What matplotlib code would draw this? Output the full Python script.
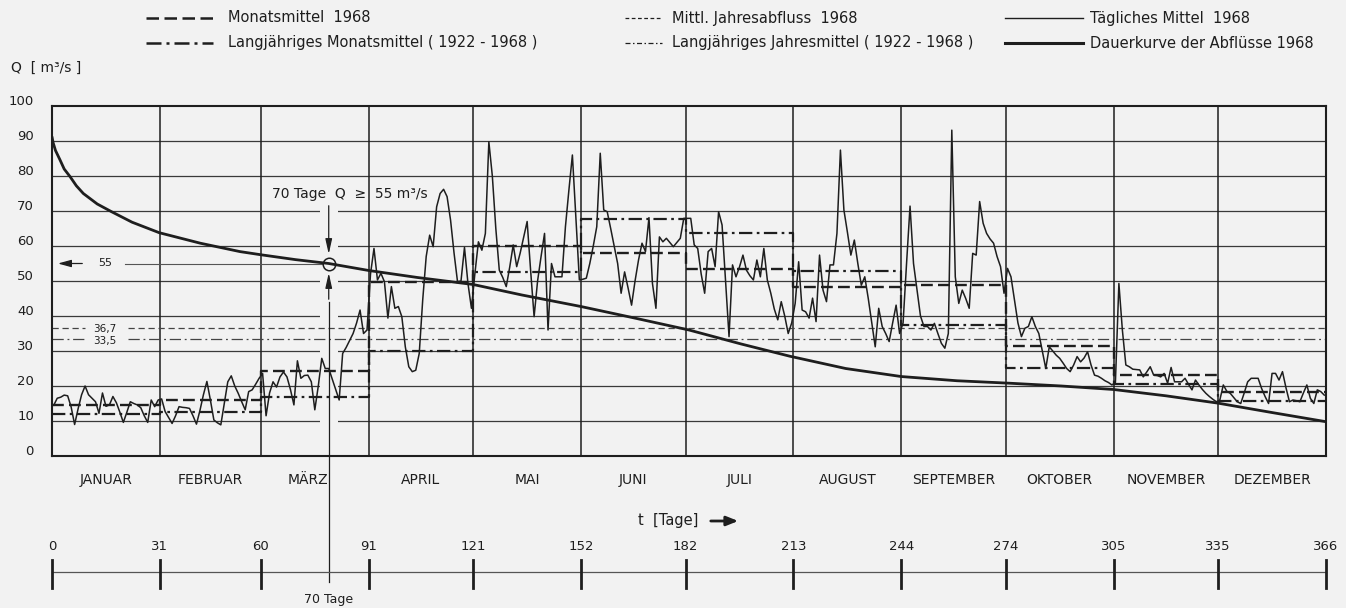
import matplotlib
matplotlib.use("Agg")
import matplotlib.pyplot as plt
import numpy as np
from matplotlib.transforms import blended_transform_factory
from matplotlib.lines import Line2D
from matplotlib.patches import Rectangle, FancyArrowPatch

# ---------------- data ----------------
months = ["JANUAR", "FEBRUAR", "MÄRZ", "APRIL", "MAI", "JUNI", "JULI",
          "AUGUST", "SEPTEMBER", "OKTOBER", "NOVEMBER", "DEZEMBER"]
month_days = [31, 29, 31, 30, 31, 30, 31, 31, 30, 31, 30, 31]
day_ticks = [0, 31, 60, 91, 121, 152, 182, 213, 244, 274, 305, 335, 366]

monthly_mean_1968 = [14.5, 16.0, 24.3, 49.8, 60.0, 58.0, 53.3, 48.4, 49.0, 31.4, 23.1, 18.4]
monthly_mean_longterm = [12.0, 12.7, 16.8, 30.0, 52.7, 67.7, 63.8, 52.9, 37.5, 25.2, 20.6, 15.8]
annual_mean_1968 = 36.7
annual_mean_longterm = 33.5

daily_jan = [14.5, 16.5, 16.8, 17.4, 17.2, 14.0, 9.0, 13.5, 17.5, 20.0, 17.5, 16.5, 15.5, 12.2, 18.0,
             14.2, 14.6, 17.0, 15.2, 12.5, 9.6, 12.5, 15.5, 15.0, 14.6, 13.8, 11.5, 9.6, 16.0, 14.1, 16.0]
daily_feb = [16.3, 12.7, 11.0, 9.3, 11.5, 14.1, 13.9, 13.8, 13.6, 11.5, 9.1, 13.0, 17.5, 21.3, 16.0,
             10.3, 9.5, 8.9, 15.0, 21.2, 22.9, 20.0, 17.9, 15.5, 13.2, 18.4, 18.9, 20.5, 22.2]
daily_mar = [23.6, 11.5, 18.0, 21.2, 19.7, 22.6, 24.0, 22.6, 19.0, 14.6, 27.2, 22.2, 23.0, 23.1, 21.2,
             13.2, 20.0, 27.9, 25.0, 25.0, 22.0, 19.0, 16.0, 29.3, 31.0, 33.0, 35.0, 38.0, 41.7, 35.0, 36.0]
daily_apr = [52.0, 59.3, 50.3, 52.2, 49.8, 39.4, 48.4, 42.2, 42.7, 39.8, 31.2, 25.5, 24.1, 24.5, 29.3,
             44.6, 57.0, 63.1, 59.8, 71.2, 75.0, 76.2, 74.1, 67.4, 58.0, 49.8, 50.0, 59.6, 49.3, 42.2]
daily_may = [52.2, 61.2, 58.8, 63.6, 89.8, 80.0, 65.0, 53.1, 51.0, 48.4, 54.0, 60.3, 54.1, 58.0, 62.5,
             67.0, 53.0, 39.8, 50.0, 57.0, 63.6, 36.0, 55.0, 51.2, 51.2, 51.2, 65.5, 76.0, 86.0, 68.0, 50.3]
daily_jun = [50.5, 50.8, 55.0, 60.0, 65.5, 86.5, 70.3, 69.8, 65.0, 60.0, 55.0, 46.5, 52.6, 48.0, 43.1,
             50.0, 56.0, 60.8, 58.4, 68.1, 49.3, 42.2, 62.6, 61.2, 62.2, 61.0, 59.8, 61.0, 62.2, 67.9]
daily_jul = [67.9, 67.9, 60.3, 59.3, 52.0, 46.5, 58.4, 59.3, 54.1, 69.8, 66.0, 50.0, 34.1, 54.6, 51.2,
             54.0, 57.4, 53.1, 51.5, 50.3, 56.0, 51.2, 59.3, 50.3, 46.5, 42.0, 38.9, 44.1, 40.0, 35.0, 38.0]
daily_aug = [43.6, 55.5, 41.7, 41.2, 39.4, 45.1, 38.4, 57.4, 47.4, 44.1, 54.6, 54.6, 63.6, 87.4, 70.3,
             64.0, 57.4, 61.7, 55.0, 48.8, 51.2, 45.0, 38.0, 31.2, 42.2, 37.0, 35.0, 32.7, 38.0, 43.1, 35.0]
daily_sep = [38.0, 55.0, 71.4, 55.0, 47.4, 40.0, 37.0, 37.0, 36.0, 37.9, 35.0, 32.2, 30.8, 35.0, 93.1,
             51.2, 43.6, 47.4, 45.0, 42.2, 57.9, 57.4, 72.7, 66.5, 63.6, 62.0, 60.8, 57.0, 54.1, 46.5]
daily_oct = [53.6, 51.2, 44.6, 38.0, 34.1, 36.5, 37.0, 39.8, 37.0, 35.0, 30.0, 25.0, 31.2, 30.0, 28.8,
             27.9, 26.5, 25.0, 24.1, 26.0, 28.4, 26.9, 28.0, 29.8, 26.0, 23.1, 22.8, 22.2, 21.5, 21.0, 20.3]
daily_nov = [21.0, 49.3, 36.0, 26.0, 25.5, 24.8, 24.7, 24.6, 22.6, 24.0, 25.5, 23.1, 23.0, 22.6, 23.6,
             20.8, 25.3, 21.2, 21.2, 21.2, 22.2, 20.5, 18.9, 21.7, 20.3, 19.0, 17.9, 17.0, 16.2, 15.5]
daily_dec = [16.0, 20.3, 18.5, 17.9, 16.7, 15.5, 15.0, 18.0, 21.2, 22.2, 22.2, 22.2, 19.3, 17.0, 15.0,
             23.6, 23.6, 21.7, 24.1, 19.5, 15.5, 16.0, 15.8, 15.5, 18.0, 20.3, 16.5, 15.0, 18.9, 18.4, 17.4]

duration_days = [0, 0.3, 1.0, 2.3, 3.5, 5.2, 7.0, 9.0, 13.0, 17.1, 23.0, 30.8, 42.6, 54.0, 60.0,
                 70.0, 79.5, 91, 105, 121, 135, 152, 167, 183, 198, 212, 228, 244, 260, 275, 290,
                 305, 320, 335, 350, 366]
duration_q = [91.2, 89.6, 87.3, 84.6, 82.0, 79.8, 77.2, 75.0, 72.0, 69.8, 66.8, 63.8, 60.8, 58.4, 57.5,
              56.1, 55.0, 53.0, 51.0, 49.0, 46.0, 42.7, 39.5, 36.0, 32.0, 28.5, 25.0, 22.7, 21.5,
              20.8, 20.0, 19.0, 17.2, 15.1, 12.5, 9.8]

threshold_q = 55
threshold_days_label = "70 Tage"
threshold_x = 79.5  # where the reference draws the marker

# ---------------- styling ----------------
W, H = 1346, 608
BG = "#f2f2f2"
INK = "#1e1e1e"
GRID = "#3a3a3a"
plt.rcParams["font.family"] = ["DejaVu Sans"]

fig = plt.figure(figsize=(W / 100, H / 100), dpi=100)
fig.patch.set_facecolor(BG)


def fx(px):
    return px / W


def fy(py):
    return 1 - py / H


ax = fig.add_axes([fx(52), fy(456), fx(1326) - fx(52), fy(106) - fy(456)])
ax.set_facecolor(BG)
ax.set_xlim(0, 366)
ax.set_ylim(0, 100)
ax.set_xticks([])
ax.set_yticks([])
for s in ax.spines.values():
    s.set_linewidth(1.5)
    s.set_color(INK)

bounds = np.cumsum([0] + month_days)
tY = blended_transform_factory(fig.transFigure, ax.transData)
tX = blended_transform_factory(ax.transData, fig.transFigure)

# grid
for v in range(10, 100, 10):
    ax.axhline(v, color=GRID, lw=0.9, zorder=1)
for b in bounds[1:-1]:
    ax.axvline(b, color=INK, lw=1.1, zorder=1)
ax.add_patch(Rectangle((threshold_x - 2.6, 0.3), 5.2, 74, color=BG, zorder=1.5, lw=0))

# y labels
for v in range(0, 101, 10):
    fig.text(fx(34), v + 1.15, str(v), transform=tY, ha="right", va="center",
             fontsize=9.5, color=INK)

# annual lines with label gaps
for val, ls, lab, dy in [(annual_mean_1968, (0, (5, 3)), "36,7", -0.3),
                         (annual_mean_longterm, (0, (9, 3, 1.5, 3)), "33,5", -0.7)]:
    ax.plot([0, 9.5], [val, val], color="#444444", lw=0.9, ls=ls, zorder=2)
    ax.plot([21.8, 366], [val, val], color="#444444", lw=0.9, ls=ls, zorder=2)
    ax.text(15.3, val + dy, lab, ha="center", va="center", fontsize=7.5, color=INK, zorder=3)

# monthly means as steps
ax.step(bounds, monthly_mean_1968 + [monthly_mean_1968[-1]], where="post",
        color=INK, lw=1.7, ls=(0, (5, 2.2)), zorder=3)
ax.step(bounds, monthly_mean_longterm + [monthly_mean_longterm[-1]], where="post",
        color=INK, lw=1.6, ls=(0, (6, 2, 1.2, 2)), zorder=3)

# daily
daily = (daily_jan + daily_feb + daily_mar + daily_apr + daily_may + daily_jun +
         daily_jul + daily_aug + daily_sep + daily_oct + daily_nov + daily_dec)
days = np.arange(len(daily)) + 0.5
ax.plot(days, daily, color=INK, lw=1.1, zorder=4)

# duration curve
ax.plot(duration_days, duration_q, color=INK, lw=2.0, zorder=5, solid_capstyle="round",
        solid_joinstyle="round")

# threshold annotations
ax.plot([threshold_x], [threshold_q], marker="o", ms=9, mfc="none", mec=INK, mew=1.1, zorder=6)
ax.annotate("", xy=(0.9, threshold_q), xytext=(9.5, threshold_q),
            arrowprops=dict(arrowstyle="-|>,head_length=0.8,head_width=0.22", color=INK, lw=0.9),
            zorder=6)
ax.text(15.3, threshold_q, str(threshold_q), ha="center", va="center", fontsize=8, color=INK)
ax.plot([21.0, threshold_x - 2.0], [threshold_q, threshold_q], color="#555555", lw=0.8, zorder=2)
ax.annotate("", xy=(threshold_x, threshold_q + 1.9), xytext=(threshold_x, 72.3),
            arrowprops=dict(arrowstyle="-|>,head_length=0.9,head_width=0.2", color=INK, lw=0.9))
ax.annotate("", xy=(threshold_x, threshold_q - 1.9), xytext=(threshold_x, 44),
            arrowprops=dict(arrowstyle="-|>,head_length=0.9,head_width=0.2", color=INK, lw=0.9))
fig.add_artist(Line2D([threshold_x, threshold_x],
                      [fy(456) + 0.44 * (fy(106) - fy(456)), fy(582)],
                      transform=tX, color=INK, lw=0.9))
ax.text(63.2, 74.9, "70 Tage  Q  \u2265  55 m\u00b3/s", ha="left", va="center",
        fontsize=10, color=INK)

# month labels
mids = (bounds[:-1] + bounds[1:]) / 2
for m, xm in zip(months, mids):
    off = -2.0 if m == "MÄRZ" else 0
    fig.text(xm + off, fy(480), m, transform=tX, ha="center", va="center",
             fontsize=10, color=INK)

# t [Tage] arrow
fig.text(fx(668), fy(520), "t  [Tage]", ha="center", va="center", fontsize=10.5, color=INK)
fig.add_artist(FancyArrowPatch((fx(708), fy(521)), (fx(741), fy(521)),
                               transform=fig.transFigure,
                               arrowstyle="-|>,head_length=7,head_width=2.8",
                               color=INK, lw=2.0))

# bottom day axis
fig.add_artist(Line2D([0, 366], [fy(572), fy(572)], transform=tX, color="#555555", lw=0.9))
for d in day_ticks:
    fig.add_artist(Line2D([d, d], [fy(560), fy(588)], transform=tX, color=INK, lw=2.0))
    fig.text(d, fy(546), str(d), transform=tX, ha="center", va="center",
             fontsize=9.5, color=INK)
fig.text(threshold_x, fy(599), threshold_days_label, transform=tX, ha="center", va="center",
         fontsize=9, color=INK)

# legend (manual)
leg = [
    (146, 213, 18, dict(lw=1.8, ls=(0, (5, 2.2))), 228, "Monatsmittel  1968"),
    (146, 213, 43, dict(lw=1.8, ls=(0, (6, 2, 1.2, 2))), 228, "Langjähriges Monatsmittel ( 1922 - 1968 )"),
    (625, 662, 18, dict(lw=0.9, ls=(0, (3, 2))), 672, "Mittl. Jahresabfluss  1968"),
    (625, 662, 43, dict(lw=0.9, ls=(0, (4, 2, 1.2, 2))), 672, "Langjähriges Jahresmittel ( 1922 - 1968 )"),
    (1005, 1083, 18, dict(lw=1.0, ls="-"), 1090, "Tägliches Mittel  1968"),
    (1005, 1083, 43, dict(lw=2.2, ls="-"), 1090, "Dauerkurve der Abflüsse 1968"),
]
for x0, x1, yy, st, tx, label in leg:
    fig.add_artist(Line2D([fx(x0), fx(x1)], [fy(yy), fy(yy)], transform=fig.transFigure,
                          color=INK, **st))
    fig.text(fx(tx), fy(yy), label, ha="left", va="center", fontsize=10.5, color=INK)

fig.text(fx(11), fy(68), "Q  [ m\u00b3/s ]", ha="left", va="center", fontsize=10, color=INK)

fig.savefig("out.png", dpi=100, facecolor=BG)
